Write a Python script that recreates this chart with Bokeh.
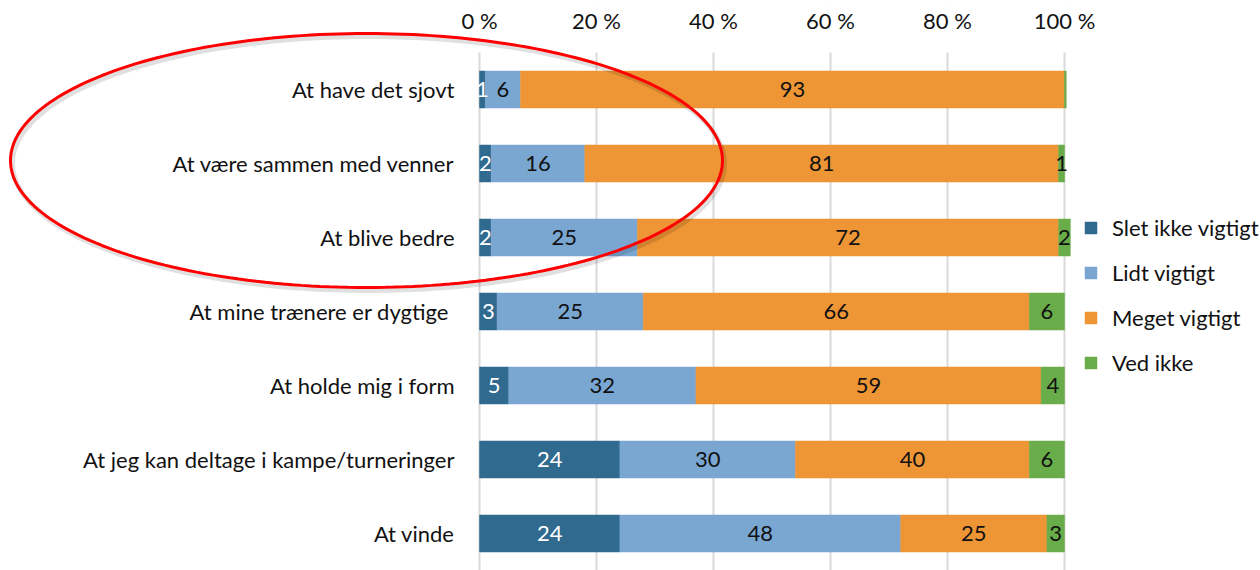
import numpy as np
from bokeh.plotting import figure
from bokeh.models import (ColumnDataSource, Range1d, FixedTicker, Legend, LegendItem,
                          PolyAnnotation, BoxAnnotation)
from bokeh.core.properties import value
from bokeh.embed import file_html
from bokeh.resources import INLINE

# ---------------- data ----------------
categories = ["At have det sjovt", "At være sammen med venner", "At blive bedre",
              "At mine trænere er dygtige ", "At holde mig i form",
              "At jeg kan deltage i kampe/turneringer", "At vinde"]
series_names = ["Slet ikke vigtigt", "Lidt vigtigt", "Meget vigtigt", "Ved ikke"]
slet_ikke = [1, 2, 2, 3, 5, 24, 24]
lidt_vigtigt = [6, 16, 25, 25, 32, 30, 48]
meget_vigtigt = [93, 81, 72, 66, 59, 40, 25]
ved_ikke = [0.3, 1, 2, 6, 4, 6, 3]
x_ticks = [0, 20, 40, 60, 80, 100]
x_tick_labels = ["0 %", "20 %", "40 %", "60 %", "80 %", "100 %"]

# ---------------- style / layout ----------------
colors = ["#316A8F", "#7AA6D2", "#EE9536", "#69AC4A"]
label_colors = ["#FFFFFF", "#111111", "#111111", "#111111"]
FONT = "Lato"
FS = "22px"

W, H = 1260, 570
PLOT_LEFT, PLOT_TOP = 479, 52      # pixel position of 0 % and of the first band's top edge
PX_PER_PCT, ROW_PX = 5.85, 74      # pixel scale of the value axis and of one category band
x_start = -PLOT_LEFT / PX_PER_PCT
x_end = (W - PLOT_LEFT) / PX_PER_PCT
y_top = -0.5 - PLOT_TOP / ROW_PX
y_bottom = -0.5 + (H - PLOT_TOP) / ROW_PX

p = figure(width=W, height=H, output_backend="svg", toolbar_location=None,
           x_range=Range1d(x_start, x_end), y_range=Range1d(y_bottom, y_top),
           x_axis_location="above", y_axis_location="left",
           min_border_left=0, min_border_right=0, min_border_top=0, min_border_bottom=0)
p.outline_line_color = None
p.background_fill_color = "white"
p.border_fill_color = "white"

# axes (drawn at the value-axis origin / band edge)
xa = p.xaxis[0]
xa.fixed_location = -0.5
xa.ticker = FixedTicker(ticks=x_ticks)
xa.major_label_overrides = {t: l for t, l in zip(x_ticks, x_tick_labels)}
xa.axis_line_color = None
xa.major_tick_line_color = None
xa.minor_tick_line_color = None
xa.major_label_text_font = FONT
xa.major_label_text_font_size = FS
xa.major_label_text_color = "#111111"
xa.major_label_standoff = 13

ya = p.yaxis[0]
ya.fixed_location = 0
ya.ticker = FixedTicker(ticks=list(range(len(categories))))
ya.major_label_overrides = {i: c for i, c in enumerate(categories)}
ya.axis_line_color = None
ya.major_tick_line_color = None
ya.minor_tick_line_color = None
ya.major_label_text_font = FONT
ya.major_label_text_font_size = FS
ya.major_label_text_color = "#111111"
ya.major_label_standoff = 19

p.xgrid.ticker = FixedTicker(ticks=x_ticks)
p.xgrid.grid_line_color = "#D9D9D9"
p.xgrid.grid_line_width = 2
p.ygrid.visible = False
# keep gridlines inside the plot area (hide them above the first band)
p.add_layout(BoxAnnotation(bottom=-0.5, fill_color="white", fill_alpha=1,
                           line_alpha=0, level="underlay"))

# bars
all_series = [slet_ikke, lidt_vigtigt, meget_vigtigt, ved_ikke]
ys = list(range(len(categories)))
cum = np.zeros(len(categories))
renderers = []
lab_x, lab_y, lab_t, lab_c = [], [], [], []
for k, vals in enumerate(all_series):
    vals = np.array(vals, dtype=float)
    left = cum.copy()
    right = cum + vals
    src = ColumnDataSource(dict(y=ys, left=left, right=right))
    r = p.hbar(y="y", left="left", right="right", height=0.5, source=src,
               fill_color=colors[k], line_color=colors[k], line_width=0.5)
    renderers.append(r)
    for i, v in enumerate(vals):
        if v >= 0.5:
            lab_x.append((left[i] + right[i]) / 2)
            lab_y.append(ys[i])
            lab_t.append(str(int(round(v))))
            lab_c.append(label_colors[k])
    cum = right

lsrc = ColumnDataSource(dict(x=lab_x, y=lab_y, t=lab_t, c=lab_c))
p.text(x="x", y="y", text="t", source=lsrc, text_color="c",
       text_align="center", text_baseline="middle",
       text_font=value(FONT), text_font_size=value(FS))

# legend
legend = Legend(items=[LegendItem(label=n, renderers=[r]) for n, r in zip(series_names, renderers)],
                location=(1083, 194))
legend.glyph_width = 15
legend.glyph_height = 15
legend.label_standoff = 14
legend.label_text_font = FONT
legend.label_text_font_size = FS
legend.label_text_color = "#111111"
legend.label_height = 26
legend.spacing = 18
legend.padding = 0
legend.margin = 0
legend.border_line_color = None
legend.background_fill_alpha = 0
p.add_layout(legend)

# red ellipse highlight (annotation, canvas pixels)
cx, cy, a, b = 366, 160, 356, 127
t = np.linspace(0, 2 * np.pi, 241)
ex = cx + a * np.cos(t)
ey = cy + b * np.sin(t)
shadow = PolyAnnotation(xs=list(ex + 2), ys=list(ey + 3), xs_units="canvas", ys_units="canvas",
                        fill_alpha=0, line_color="#000000", line_alpha=0.12, line_width=5)
ring = PolyAnnotation(xs=list(ex), ys=list(ey), xs_units="canvas", ys_units="canvas",
                      fill_alpha=0, line_color="#FF0000", line_alpha=1.0, line_width=3)
p.add_layout(shadow)
p.add_layout(ring)

open("out.html", "w").write(file_html(p, INLINE))
